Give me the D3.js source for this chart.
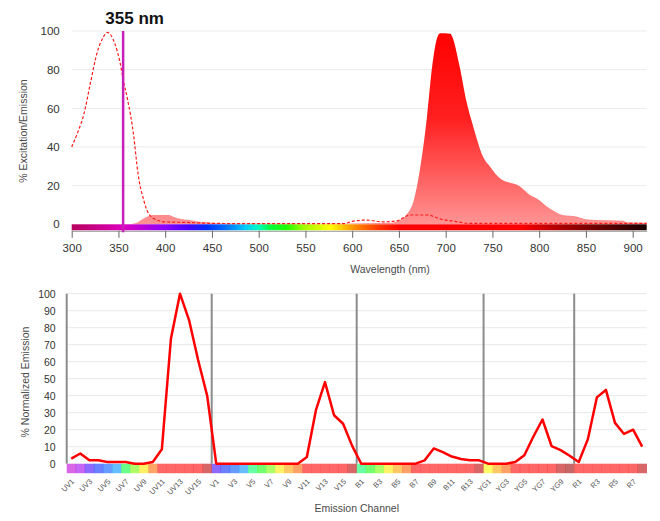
<!DOCTYPE html>
<html>
<head>
<meta charset="utf-8">
<script src="https://cdn.jsdelivr.net/npm/d3@7"></script>
<style>
  body { margin: 0; background: #fff; }
  svg { font-family: "Liberation Sans", Arial, sans-serif; }
  .axis text { fill: #333; }
  .axis_label { fill: #4a4a4a; font-size: 10.5px; }
</style>
</head>
<body>
<div id="chart"></div>
<script>
// excitation spectrum (dashed), wavelength nm / %
const excWl  = [300, 306, 313, 320, 327, 334, 338, 346, 352, 355, 360, 366, 371, 377, 382, 391, 401, 420, 450, 500, 590, 600, 615, 633, 647, 662, 680, 695, 710, 725, 915];
const excVal = [40, 47, 57, 73, 88.5, 97, 99.3, 93.6, 83, 75, 64, 47, 26, 12.6, 5.7, 2.2, 1.2, 1, 0.5, 0.3, 0.3, 1.5, 2.2, 1.3, 1.7, 4.8, 4.8, 2.7, 1.5, 0.5, 0.5];

// emission spectrum (filled)
const emWl  = [360, 368, 377, 387, 404, 408, 417, 424, 435, 445, 460, 560, 640, 650, 658, 666, 673, 680, 685.5, 690, 694, 705, 707, 715, 722, 729.5, 740, 747.5, 758, 779.5, 790, 797, 811, 825, 840, 850, 861, 890, 894, 913, 915];
const emVal = [0, 0.5, 3, 4.8, 4.8, 4.1, 2.8, 2.4, 1.5, 1, 0.5, 0.3, 0.8, 2, 5, 12.6, 30, 55.7, 81.5, 95, 98.8, 98.6, 97, 81.5, 64, 50.5, 35, 29.8, 23.8, 19.5, 15.2, 13.5, 8.3, 4.8, 4.1, 2.6, 2.2, 1.9, 1, 0.8, 0.8];

const laserNm = 355;
const wlTicks = d3.range(300, 901, 50);
const pctTicks = [0, 20, 40, 60, 80, 100];

// detector arrays: normalized emission per channel and channel wavelength
const groups = ["UV", "V", "B", "YG", "R"];
const uvVals = [3, 6, 2, 2, 1, 1, 1, 0, 0, 1, 8.5, 73.5, 100, 84.5, 61, 40];
const vVals  = [0, 0, 0, 0, 0, 0, 0, 0, 0, 0, 4, 31.5, 48, 28.5, 23.5, 10.5];
const bVals  = [0, 0, 0, 0, 0, 0, 0, 2, 9, 6.8, 4.2, 2.8, 2, 2];
const ygVals = [0, 0, 0, 1, 5, 16, 26, 10.4, 8, 4.7];
const rVals  = [1, 14.3, 39, 43.4, 24, 17.5, 20, 10];

const uvNm = [372, 388, 428, 443, 458, 473, 514, 542, 582, 613, 664, 692, 720, 750, 780, 812];
const vNm  = [428, 443, 458, 473, 508, 525, 542, 581, 598, 615, 664, 692, 720, 750, 780, 812];
const bNm  = [508, 525, 542, 581, 598, 615, 660, 678, 697, 717, 738, 760, 783, 812];
const ygNm = [577, 598, 615, 660, 697, 720, 750, 780, 812, 830];
const rNm  = [661, 679, 697, 717, 738, 760, 783, 812];

const bottomTicks = d3.range(0, 101, 10);

// wavelength -> colour
const specStops = [
  [300, "#b8005c"], [330, "#cc0090"], [355, "#dd00c0"], [380, "#b000e0"], [400, "#8a00ff"],
  [425, "#4a00ff"], [445, "#0030ff"], [465, "#0070ff"], [485, "#00c8ff"], [500, "#00ffc0"],
  [512, "#00ff40"], [530, "#20ff00"], [548, "#a0ff00"], [576, "#ffff00"], [591, "#ffc000"],
  [602, "#ff9000"], [630, "#ff3000"], [652, "#ff0000"], [780, "#ff0000"], [812, "#c00000"],
  [850, "#800000"], [900, "#300000"], [915, "#1a0000"]
];
const specColor = d3.scaleLinear()
  .domain(specStops.map(d => d[0]))
  .range(specStops.map(d => d[1]))
  .clamp(true);

const svg = d3.select("#chart").append("svg")
  .attr("width", 660)
  .attr("height", 521);

const defs = svg.append("defs");

// ---------- top chart ----------
const x = d3.scaleLinear().domain([300, 915]).range([71.7, 646.7]);
const y = d3.scaleLinear().domain([0, 100]).range([224.3, 31]);

const spec = defs.append("linearGradient")
  .attr("id", "spec")
  .attr("gradientUnits", "userSpaceOnUse")
  .attr("x1", x(300)).attr("x2", x(915))
  .attr("y1", 0).attr("y2", 0);
spec.selectAll("stop")
  .data(specStops)
  .join("stop")
    .attr("offset", d => (d[0] - 300) / 615)
    .attr("stop-color", d => d[1]);

const emFill = defs.append("linearGradient")
  .attr("id", "emFill")
  .attr("gradientUnits", "userSpaceOnUse")
  .attr("x1", 0).attr("x2", 0)
  .attr("y1", y(100)).attr("y2", y(0));
emFill.append("stop").attr("offset", 0).attr("stop-color", "#ff0000");
emFill.append("stop").attr("offset", 0.45).attr("stop-color", "#ff1f1f");
emFill.append("stop").attr("offset", 1).attr("stop-color", "#ff9494");

// grid
svg.append("g")
  .selectAll("line")
  .data(pctTicks.filter(d => d > 0))
  .join("line")
    .attr("x1", x.range()[0]).attr("x2", x.range()[1])
    .attr("y1", d => y(d)).attr("y2", d => y(d))
    .attr("stroke", "#ebebeb");

const emData = emWl.map((w, i) => [w, emVal[i]]);
const excData = excWl.map((w, i) => [w, excVal[i]]);

svg.append("path")
  .datum(emData)
  .attr("fill", "url(#emFill)")
  .attr("d", d3.area()
    .x(d => x(d[0]))
    .y0(y(0))
    .y1(d => y(d[1]))
    .curve(d3.curveMonotoneX));

// spectrum bar
svg.append("rect")
  .attr("x", x(300))
  .attr("y", y(0))
  .attr("width", x(915) - x(300))
  .attr("height", 6)
  .attr("fill", "url(#spec)");

svg.append("path")
  .datum(excData)
  .attr("fill", "none")
  .attr("stroke", "#ff1a1a")
  .attr("stroke-width", 1.2)
  .attr("stroke-dasharray", "3,2")
  .attr("d", d3.line()
    .x(d => x(d[0]))
    .y(d => y(d[1]))
    .curve(d3.curveMonotoneX));

// x axis
const xAxis = svg.append("g")
  .attr("class", "axis")
  .attr("transform", "translate(0," + (y(0) + 6.5) + ")")
  .call(d3.axisBottom(x).tickValues(wlTicks).tickSize(7).tickPadding(6).tickSizeOuter(0));
xAxis.select(".domain").attr("stroke", "#9a9a9a");
xAxis.selectAll(".tick line").attr("stroke", "#666");
xAxis.selectAll("text").style("font-size", "11.5px");

// y axis
const yAxis = svg.append("g")
  .attr("class", "axis")
  .attr("transform", "translate(" + x.range()[0] + ",0)")
  .call(d3.axisLeft(y).tickValues(pctTicks).tickSize(0).tickPadding(12));
yAxis.select(".domain").remove();
yAxis.selectAll("text").style("font-size", "11.5px");

// laser line + title
svg.append("line")
  .attr("x1", x(laserNm)).attr("x2", x(laserNm))
  .attr("y1", y(100)).attr("y2", y(0) + 8)
  .attr("stroke", "#c81fb8")
  .attr("stroke-width", 2.5);

svg.append("text")
  .attr("x", x(laserNm) + 11.5)
  .attr("y", 24)
  .attr("text-anchor", "middle")
  .style("font-size", "17px")
  .style("font-weight", "bold")
  .attr("fill", "#111")
  .text(laserNm + " nm");

svg.append("text")
  .attr("class", "axis_label")
  .attr("x", 390).attr("y", 273)
  .attr("text-anchor", "middle")
  .text("Wavelength (nm)");

svg.append("text")
  .attr("class", "axis_label")
  .attr("transform", "translate(27,131) rotate(-90)")
  .attr("text-anchor", "middle")
  .text("% Excitation/Emission");

// ---------- bottom chart ----------
const groupVals = [uvVals, vVals, bVals, ygVals, rVals];
const groupNm = [uvNm, vNm, bNm, ygNm, rNm];

const channels = groups.flatMap((g, gi) =>
  groupVals[gi].map((v, i) => ({
    name: g + (i + 1),
    group: g,
    idx: i,
    value: v,
    nm: groupNm[gi][i]
  })));

const xb = d3.scaleBand()
  .domain(channels.map(d => d.name))
  .range([66.7, 646.7])
  .padding(0);
const yb = d3.scaleLinear().domain([0, 100]).range([463.7, 293.7]);

svg.append("g")
  .selectAll("line")
  .data(bottomTicks.filter(d => d > 0))
  .join("line")
    .attr("x1", xb.range()[0]).attr("x2", xb.range()[1])
    .attr("y1", d => yb(d)).attr("y2", d => yb(d))
    .attr("stroke", "#e8e8e8");

// colour cells
svg.append("g")
  .selectAll("rect")
  .data(channels)
  .join("rect")
    .attr("x", d => xb(d.name))
    .attr("y", yb(0))
    .attr("width", xb.bandwidth() + 0.3)
    .attr("height", 9.5)
    .attr("fill", d => specColor(d.nm))
    .attr("fill-opacity", 0.6);

// group separators
svg.append("g")
  .selectAll("line")
  .data(channels.filter(d => d.idx === 0))
  .join("line")
    .attr("x1", d => xb(d.name)).attr("x2", d => xb(d.name))
    .attr("y1", yb(100)).attr("y2", yb(0))
    .attr("stroke", "#8c8c8c")
    .attr("stroke-width", 2);

svg.append("path")
  .datum(channels)
  .attr("fill", "none")
  .attr("stroke", "#ff0000")
  .attr("stroke-width", 2.5)
  .attr("stroke-linejoin", "round")
  .attr("d", d3.line()
    .x(d => xb(d.name) + xb.bandwidth() / 2)
    .y(d => yb(d.value)));

const ybAxis = svg.append("g")
  .attr("class", "axis")
  .attr("transform", "translate(" + xb.range()[0] + ",0)")
  .call(d3.axisLeft(yb).tickValues(bottomTicks).tickSize(0).tickPadding(11));
ybAxis.select(".domain").remove();
ybAxis.selectAll("text").style("font-size", "10.5px");

// channel labels (every other one)
svg.append("g")
  .selectAll("text")
  .data(channels.filter(d => d.idx % 2 === 0))
  .join("text")
    .attr("transform", d => "translate(" + (xb(d.name) + xb.bandwidth() / 2 + 3.5) + ",482) rotate(-45)")
    .attr("text-anchor", "end")
    .style("font-size", "7.5px")
    .attr("fill", "#555")
    .text(d => d.name);

svg.append("text")
  .attr("class", "axis_label")
  .attr("x", 356.7).attr("y", 512)
  .attr("text-anchor", "middle")
  .text("Emission Channel");

svg.append("text")
  .attr("class", "axis_label")
  .attr("transform", "translate(29,382) rotate(-90)")
  .attr("text-anchor", "middle")
  .text("% Normalized Emission");
</script>
</body>
</html>
